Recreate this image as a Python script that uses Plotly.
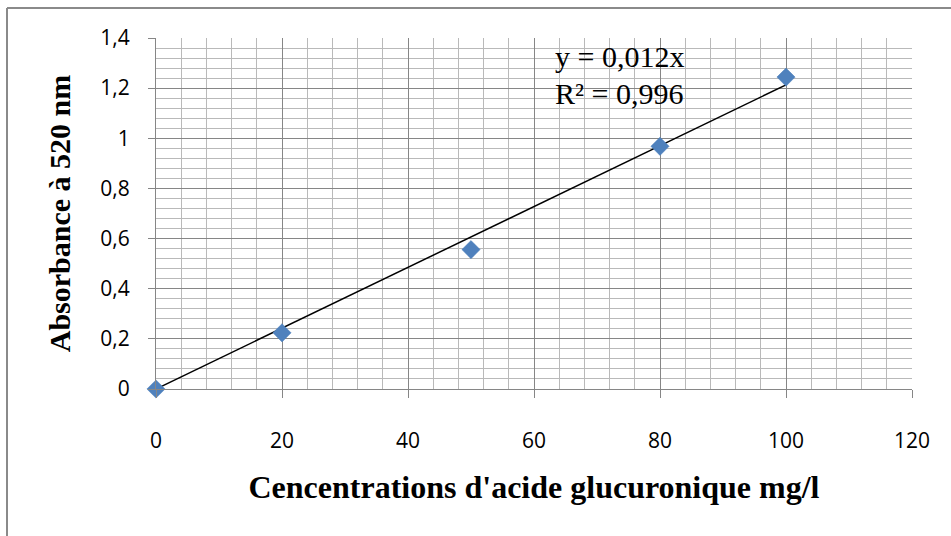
import numpy as np
import plotly.graph_objects as go

# Data
conc = [0, 20, 50, 80, 100]
absorbance = [0.0, 0.224, 0.556, 0.968, 1.244]
x_ticks = [0, 20, 40, 60, 80, 100, 120]
x_ticktext = ["0", "20", "40", "60", "80", "100", "120"]
y_ticks = [0, 0.2, 0.4, 0.6, 0.8, 1.0, 1.2, 1.4]
y_ticktext = ["0", "0,2", "0,4", "0,6", "0,8", "1", "1,2", "1,4"]
eq_text = "y = 0,012x"
r2_text = "R² = 0,996"

# Trend line through origin (least squares), drawn 0..100
xa = np.array(conc, dtype=float)
ya = np.array(absorbance, dtype=float)
slope = float((xa * ya).sum() / (xa * xa).sum())
trend_x = [min(conc), max(conc)]
trend_y = [slope * v for v in trend_x]

W, H = 951, 536
ml, mr, mt, mb = 156, 39, 38, 147
pw, ph = W - ml - mr, H - mt - mb

def px_x(px):
    return (px - ml) / pw

def px_y(py):
    return (H - mb - py) / ph

fig = go.Figure()
fig.add_trace(go.Scatter(
    x=trend_x, y=trend_y, mode="lines",
    line=dict(color="black", width=1.5), showlegend=False, hoverinfo="skip",
    cliponaxis=False))
fig.add_trace(go.Scatter(
    x=conc, y=absorbance, mode="markers",
    marker=dict(symbol="diamond", size=14, color="#4F81BD",
                line=dict(color="#4A7EBB", width=0.5)),
    showlegend=False, cliponaxis=False))

grid_major = "#868686"
grid_minor = "#B9B9B9"

fig.update_xaxes(
    range=[0, 120], tickvals=x_ticks, ticktext=x_ticktext,
    showgrid=True, gridcolor=grid_major, gridwidth=1,
    minor=dict(dtick=4, tick0=0, showgrid=True, gridcolor=grid_minor, gridwidth=1, ticks=""),
    showline=True, linecolor=grid_major, linewidth=1,
    ticks="outside", ticklen=8, tickcolor=grid_major, tickwidth=1,
    ticklabelstandoff=25,
    tickfont=dict(family="Open Sans", size=21, color="black"),
    zeroline=False,
    title=dict(text="Cencentrations d'acide glucuronique mg/l",
               font=dict(family="Liberation Serif", size=32, color="black", weight="bold"),
               standoff=22),
    automargin=False,
)
fig.update_yaxes(
    range=[0, 1.4], tickvals=y_ticks, ticktext=y_ticktext,
    showgrid=True, gridcolor=grid_major, gridwidth=1,
    minor=dict(dtick=0.04, tick0=0, showgrid=True, gridcolor=grid_minor, gridwidth=1, ticks=""),
    showline=True, linecolor=grid_major, linewidth=1,
    ticks="outside", ticklen=7, tickcolor=grid_major, tickwidth=1,
    ticklabelstandoff=14,
    tickfont=dict(family="Open Sans", size=21, color="black"),
    zeroline=False,
    title=dict(text="Absorbance à 520 nm",
               font=dict(family="Liberation Serif", size=30, color="black", weight="bold"),
               standoff=20),
    automargin=False,
)

fig.add_annotation(x=63.0, y=1.328, xref="x", yref="y", text=eq_text, showarrow=False,
                   xanchor="left", yanchor="middle",
                   font=dict(family="Liberation Serif", size=30, color="black"))
fig.add_annotation(x=63.0, y=1.18, xref="x", yref="y", text=r2_text, showarrow=False,
                   xanchor="left", yanchor="middle",
                   font=dict(family="Liberation Serif", size=30, color="black"))

# Chart-area border (only top and left visible in reference)
border = "#8A8A8A"
fig.add_shape(type="line", xref="paper", yref="paper",
              x0=px_x(7), x1=px_x(W + 10), y0=px_y(8), y1=px_y(8),
              line=dict(color=border, width=2))
fig.add_shape(type="line", xref="paper", yref="paper",
              x0=px_x(7), x1=px_x(7), y0=px_y(8), y1=px_y(H + 10),
              line=dict(color=border, width=2))

fig.update_layout(
    width=W, height=H,
    margin=dict(l=ml, r=mr, t=mt, b=mb),
    paper_bgcolor="white", plot_bgcolor="white",
    showlegend=False,
)

fig.write_html("out.html")
